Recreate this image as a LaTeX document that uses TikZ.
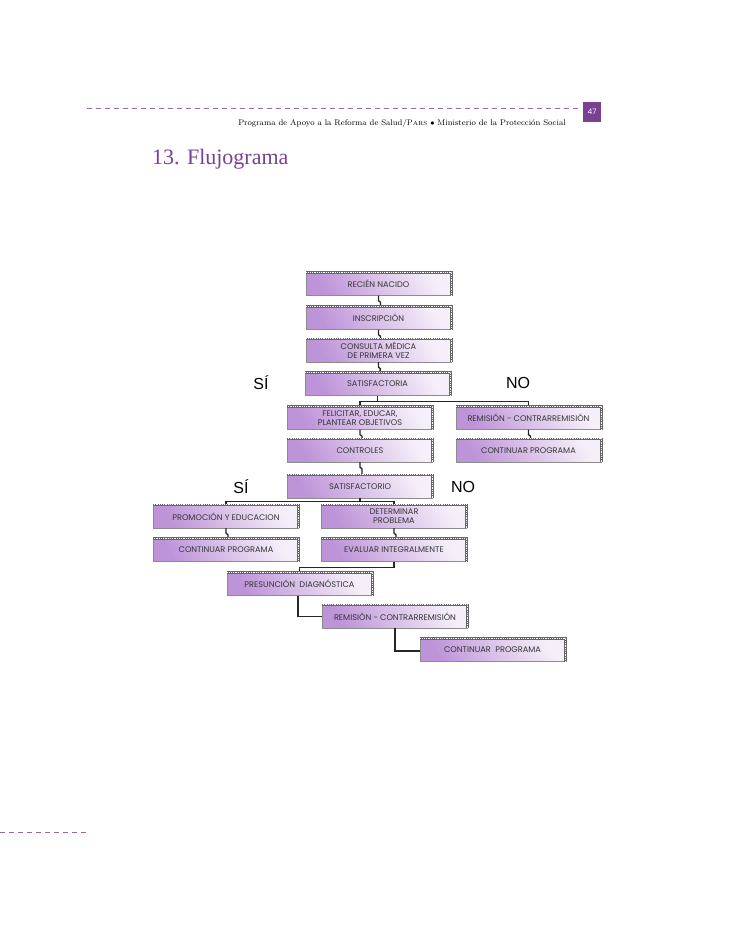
\documentclass[tikz,border=0pt]{standalone}
\usepackage{fontspec}
\setsansfont{Poppins}
\newfontfamily\answerfont{Liberation Sans}
\newfontfamily\titlefont{Liberation Serif}
\definecolor{pagepurple}{RGB}{120,65,145}
\definecolor{boxlilac}{RGB}{190,148,216}
\definecolor{boxtext}{RGB}{55,55,55}
\tikzset{
  flowbox/.style={draw=black!45, line width=0.4pt, minimum width=145pt, minimum height=23pt,
    inner sep=1pt, align=center, text=boxtext, font=\sffamily\fontsize{8.2}{9}\selectfont,
    top color=boxlilac!15!white, bottom color=boxlilac, shading angle=-60},
  hatchedge/.style={line width=2.6pt, draw=black!60,
    postaction={draw=white, line width=1pt, dash pattern=on 0.9pt off 0.9pt}},
  link/.style={draw=black!85, line width=1.3pt},
  jog/.style={to path={(\tikztostart) -- ++(0,5) -- ++(2,1.5) -- ([xshift=2pt]\tikztotarget)}},
  answer/.style={font=\answerfont\fontsize{16}{16}\selectfont, text=black},
  pagedash/.style={draw=pagepurple!80, line width=0.7pt, dash pattern=on 5pt off 4pt}
}
\begin{document}
\begin{tikzpicture}[x=1pt, y=-1pt]
\useasboundingbox[fill=white] (0,0) rectangle (728,942);
% page frame
\draw[pagedash] (87,108) -- (581,108);
\draw[pagedash] (0,832) -- (88,832);
\node[fill=pagepurple, text=white, minimum width=18pt, minimum height=20pt, inner sep=0pt,
  font=\sffamily\fontsize{7.5}{8}\selectfont] (pagenum) at (592,112) {47};
\node[anchor=base east, inner sep=0pt, text=black, font=\fontsize{8.2}{9}\selectfont\addfontfeatures{LetterSpace=9}]
  (header) at (566,125) {Programa de Apoyo a la Reforma de Salud/P{\fontsize{5.9}{6}\selectfont ARS} $\bullet$ Ministerio de la Protección Social};
\node[anchor=base west, inner sep=0pt, text=pagepurple, font=\titlefont\fontsize{22}{24}\selectfont]
  (title) at (152,164) {13. Flujograma};

% boxes
\node[flowbox] (nacido)     at (378.5,284)   {RECIÉN NACIDO};
\node[flowbox] (inscrip)    at (378.5,318)   {INSCRIPCIÓN};
\node[flowbox] (consulta)   at (378.5,350.5) {CONSULTA MÉDICA\\DE PRIMERA VEZ};
\node[flowbox] (satisf)     at (377.5,384)   {SATISFACTORIA};
\node[flowbox] (felicitar)  at (360,418)     {FELICITAR, EDUCAR,\\PLANTEAR OBJETIVOS};
\node[flowbox] (remision)   at (528.5,418)   {REMISIÓN - CONTRARREMISIÓN};
\node[flowbox] (controles)  at (360,450.5)   {CONTROLES};
\node[flowbox] (seguirA)    at (528.5,450.5) {CONTINUAR PROGRAMA};
\node[flowbox] (satisfo)    at (360,486.5)   {SATISFACTORIO};
\node[flowbox] (promocion)  at (226,516.5)   {PROMOCIÓN Y EDUCACION};
\node[flowbox] (determinar) at (394,516.5)   {DETERMINAR\\PROBLEMA};
\node[flowbox] (seguirB)    at (226,550)     {CONTINUAR PROGRAMA};
\node[flowbox] (evaluar)    at (394,550)     {EVALUAR INTEGRALMENTE};
\node[flowbox] (presuncion) at (299.5,584)   {PRESUNCIÓN\ \ DIAGNÓSTICA};
\node[flowbox] (remisionB)  at (395,616.5)   {REMISIÓN - CONTRARREMISIÓN};
\node[flowbox] (seguirC)    at (492.5,650)   {CONTINUAR\ \ PROGRAMA};

% answers
\node[answer] (si1) at (261,383) {SÍ};
\node[answer] (no1) at (518,383) {NO};
\node[answer] (si2) at (241,487) {SÍ};
\node[answer] (no2) at (463,487) {NO};

% connectors
\draw[link] (nacido.south) to[jog] (inscrip.north);
\draw[link] (inscrip.south) to[jog] (consulta.north);
\draw[link] (consulta.south) to[jog] (satisf.north);
\draw[link] (satisf.south) -- ++(0,6) coordinate (forkA);
\draw[link] (felicitar.north) |- (forkA) -| (remision.north);
\draw[link] (felicitar.south) to[jog] (controles.north);
\draw[link] (remision.south) to[jog] (seguirA.north);
\draw[link] (controles.south) to[jog] (satisfo.north);
\draw[link] (satisfo.south) -- ++(0,3) coordinate (forkB);
\draw[link] (promocion.north) |- (forkB) -| (determinar.north);
\draw[link] (promocion.south) to[jog] (seguirB.north);
\draw[link] (determinar.south) to[jog] (evaluar.north);
\draw[link] (evaluar.south) -- ++(0,5.5) -| (presuncion.north);
\draw[link] ([xshift=-1.5pt]presuncion.south) |- (remisionB.west);
\draw[link] (remisionB.south) |- ([yshift=-1pt]seguirC.west);

% hatched top and right edges
\foreach \n in {nacido,inscrip,consulta,satisf,felicitar,remision,controles,seguirA,
  satisfo,promocion,determinar,seguirB,evaluar,presuncion,remisionB,seguirC}
  \draw[hatchedge] (\n.south east) -- (\n.north east) -- (\n.north west);
\end{tikzpicture}
\end{document}
